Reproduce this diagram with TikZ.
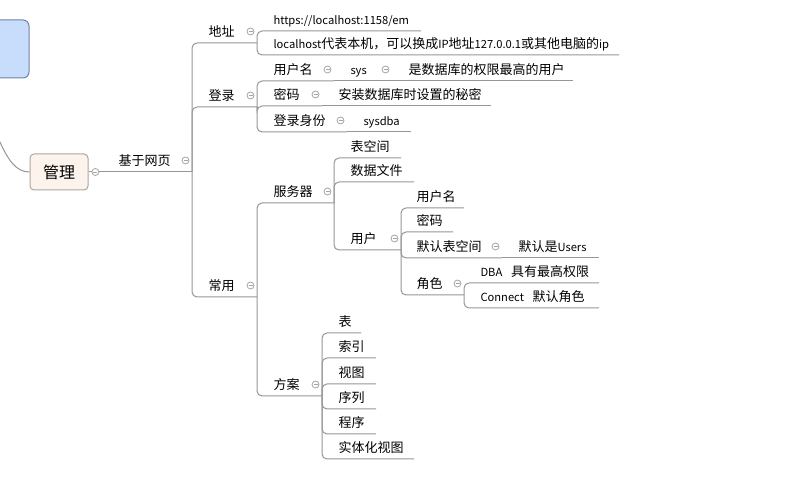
\documentclass[tikz,border=0pt]{standalone}
\usepackage{fontspec}
\setmainfont{Noto Sans CJK SC}
\newfontfamily\lat{Noto Sans CJK SC}[Scale=0.86]
\usetikzlibrary{positioning}
\definecolor{linegray}{RGB}{150,150,150}
\definecolor{foldgray}{RGB}{165,165,165}
\definecolor{rootfill}{RGB}{251,243,236}
\definecolor{rootdraw}{RGB}{175,165,155}
\definecolor{bluefill}{RGB}{200,220,252}
\definecolor{bluedraw}{RGB}{110,130,170}
\tikzset{
  topic/.style={anchor=south west, text width=#1pt, align=left, inner xsep=0pt,
    inner ysep=2pt, text height=10pt, text depth=3.5pt},
  fold/.style={circle, draw=foldgray, line width=0.8pt, fill=white, minimum size=7pt,
    inner sep=0pt, path picture={\draw[foldgray, line width=0.8pt]
      ([xshift=-2pt]path picture bounding box.center) --
      ([xshift=2pt]path picture bounding box.center);}},
  elbow/.style={draw=linegray, rounded corners=5pt, to path={|- (\tikztotarget)}},
  flat/.style={draw=linegray}
}
\begin{document}
\begin{tikzpicture}[x=1pt, y=-1pt, line width=1pt, font=\fontsize{13}{15}\selectfont]
  \useasboundingbox (0,0) rectangle (788,478);
  % left part
  \node[draw=bluedraw, fill=bluefill, rounded corners=6pt, minimum width=50pt,
    minimum height=58pt] (up) at (4,49) {};
  \node[draw=rootdraw, fill=rootfill, rounded corners=4pt, minimum width=58pt,
    minimum height=36pt, font=\fontsize{16}{18}\selectfont] (gl) at (59,172) {管理};
  \coordinate (cin) at (-1,140);
  \node[fold, right=3pt of gl] (f0) {};
  % first level
  \node[topic=73] (web) at (118,172) {基于网页};
  \node[topic=48] (addr) at (208,43) {地址};
  \node[topic=48] (login) at (208,107) {登录};
  \node[topic=48] (common) at (208,297) {常用};
  % address
  \node[topic=147] (url) at (273,31) {\lat https://localhost:1158/em};
  \node[topic=345] (lh) at (273,55) {{\lat localhost}代表本机，可以换成{\lat IP}地址{\lat 127.0.0.1}或其他电脑的{\lat ip}};
  % login
  \node[topic=60] (uname) at (273,81) {用户名};
  \node[topic=41] (sys) at (350,81) {\lat sys};
  \node[topic=164] (sysd) at (408,81) {是数据库的权限最高的用户};
  \node[topic=48] (pwd) at (273,106) {密码};
  \node[topic=152] (pwdd) at (338,106) {安装数据库时设置的秘密};
  \node[topic=73] (ident) at (273,132) {登录身份};
  \node[topic=47] (sysdba) at (363,132) {\lat sysdba};
  % server
  \node[topic=60] (server) at (273,203) {服务器};
  \node[topic=50] (ts) at (350,158) {表空间};
  \node[topic=63] (df) at (350,182) {数据文件};
  \node[topic=50] (user) at (350,250) {用户};
  \node[topic=47] (un2) at (416,208) {用户名};
  \node[topic=36] (pw2) at (416,232) {密码};
  \node[topic=85] (dts) at (416,258) {默认表空间};
  \node[topic=80] (dtsd) at (518,258) {默认是{\lat Users}};
  \node[topic=47] (role) at (416,295) {角色};
  \node[topic=118] (dba) at (480,283) {{\lat DBA}\ \ 具有最高权限};
  \node[topic=118] (conn) at (480,308) {{\lat Connect}\ \ 默认角色};
  % schema
  \node[topic=48] (schema) at (273,396) {方案};
  \node[topic=22] (t1) at (338,333) {表};
  \node[topic=37] (t2) at (338,358) {索引};
  \node[topic=37] (t3) at (338,384) {视图};
  \node[topic=37] (t4) at (338,409) {序列};
  \node[topic=37] (t5) at (338,434) {程序};
  \node[topic=75] (t6) at (338,459) {实体化视图};
  % fold marks
  \foreach \p in {web,addr,login,common,uname,sys,pwd,ident,server,user,dts,role,schema}
    \node[fold] (f-\p) at ([xshift=-6.5pt,yshift=11.5pt]\p.south east) {};
  % connectors
  \draw[linegray] (cin) .. controls (8,160) and (16,172) .. (gl.west);
  \path (gl.east) edge[flat] (f0)
        (f0) edge[flat] (web.south east)
        (web.south east) edge[elbow] (addr.south east)
        (web.south east) edge[elbow] (login.south east)
        (web.south east) edge[elbow] (common.south east)
        (addr.south east) edge[elbow] (url.south east)
        (addr.south east) edge[elbow] (lh.south east)
        (login.south east) edge[elbow] (uname.south east)
        (login.south east) edge[elbow] (pwd.south east)
        (login.south east) edge[elbow] (ident.south east)
        (uname.south east) edge[flat] (sys.south east)
        (sys.south east) edge[flat] (sysd.south east)
        (pwd.south east) edge[flat] (pwdd.south east)
        (ident.south east) edge[flat] (sysdba.south east)
        (common.south east) edge[elbow] (server.south east)
        (common.south east) edge[elbow] (schema.south east)
        (server.south east) edge[elbow] (ts.south east)
        (server.south east) edge[elbow] (df.south east)
        (server.south east) edge[elbow] (user.south east)
        (user.south east) edge[elbow] (un2.south east)
        (user.south east) edge[elbow] (pw2.south east)
        (user.south east) edge[elbow] (dts.south east)
        (user.south east) edge[elbow] (role.south east)
        (dts.south east) edge[flat] (dtsd.south east)
        (role.south east) edge[elbow] (dba.south east)
        (role.south east) edge[elbow] (conn.south east);
  \foreach \t in {t1,t2,t3,t4,t5,t6}
    \path (schema.south east) edge[elbow] (\t.south east);
\end{tikzpicture}
\end{document}
